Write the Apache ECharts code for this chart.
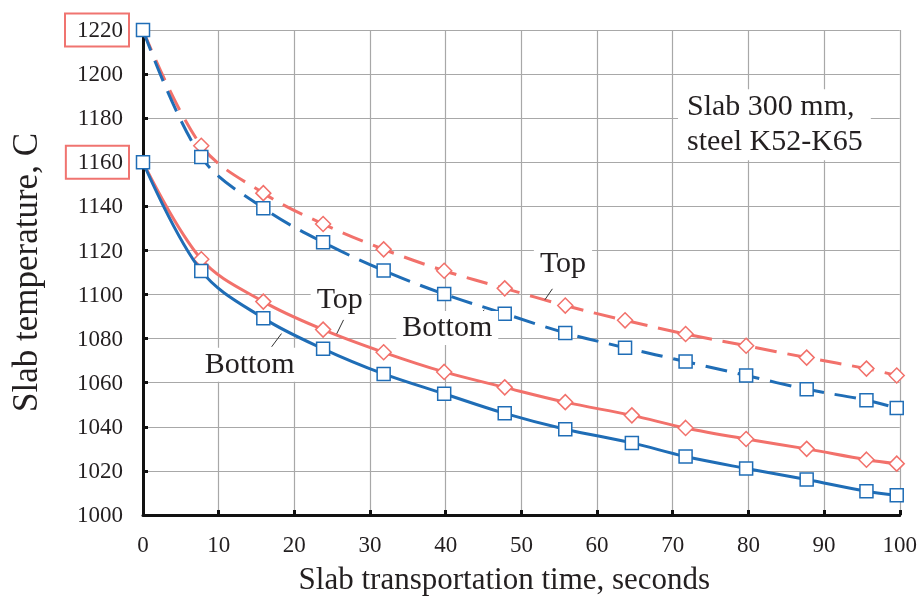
<!DOCTYPE html>
<html>
<head>
<meta charset="utf-8">
<script src="https://cdn.jsdelivr.net/npm/echarts@6/dist/echarts.min.js"></script>
<style>html,body{margin:0;padding:0;background:#fff;overflow:hidden}#c{width:920px;height:601px}</style>
</head>
<body>
<div id="c"></div>
<script>
// ---- data ----
var xDashed = [0, 7.7, 15.9, 23.8, 31.8, 39.8, 47.8, 55.8, 63.7, 71.7, 79.7, 87.7, 95.6, 99.6];
var topDashed = [1220, 1167.5, 1146, 1132, 1120.5, 1110.8, 1102.8, 1095, 1088.3, 1082.1, 1076.8, 1071.4, 1066.4, 1063.3];
var bottomDashed = [1220, 1162.4, 1139.2, 1123.7, 1110.9, 1100.2, 1091.3, 1082.6, 1075.9, 1069.6, 1063.3, 1057, 1052.1, 1048.5];
var xSolid = [0, 7.7, 15.9, 23.8, 31.8, 39.8, 47.8, 55.8, 64.6, 71.7, 79.7, 87.7, 95.6, 99.6];
var topSolid = [1160, 1116, 1096.8, 1084.1, 1073.8, 1064.9, 1057.9, 1051.2, 1045.2, 1039.5, 1034.5, 1030, 1025.1, 1023.3];
var bottomSolid = [1160, 1110.7, 1089.3, 1075.4, 1064, 1055, 1046.1, 1038.9, 1032.7, 1026.5, 1021.1, 1016.1, 1010.8, 1009];
var highlightedTicks = [1220, 1160];
var xTitle = 'Slab transportation time, seconds';
var yTitle = 'Slab temperature, C';
var noteText = 'Slab 300 mm,\nsteel K52-K65';
// annotation anchors (data coordinates)
var labels = [
  {text: 'Top', coord: [26, 1097.4], line: [[26.5, 1088.5], [25.6, 1082.2]]},
  {text: 'Bottom', coord: [14.1, 1068.2], line: [[18.3, 1082.3], [17, 1076.3]]},
  {text: 'Top', coord: [55.5, 1113.6], line: [[54.1, 1102.6], [53.1, 1097.6]]},
  {text: 'Bottom', coord: [40.2, 1084.8], line: [[44.5, 1091.2], [45.1, 1093]]}
];
var noteCoord = [70.7, 1177];

var BLUE = '#1f6db6';
var RED = '#f2716b';
var SERIF = '"Liberation Serif","Times New Roman",serif';
var TXT = '#231f20';

function pairs(xs, ys, skipFirstSymbol) {
  return xs.map(function (x, i) {
    var item = {value: [x, ys[i]]};
    if (skipFirstSymbol && i === 0) item.symbol = 'none';
    return item;
  });
}

function redSeries(data, dashed) {
  return {
    type: 'line', data: data, smooth: 0.35,
    symbol: 'diamond', symbolSize: 15, showAllSymbol: true,
    lineStyle: {color: RED, width: 3, type: dashed ? [22, 11] : 'solid'},
    itemStyle: {color: '#fff', borderColor: RED, borderWidth: 1.5},
    z: 3
  };
}
function blueSeries(data, dashed) {
  return {
    type: 'line', data: data, smooth: 0.35,
    symbol: 'rect', symbolSize: 13, showAllSymbol: true,
    lineStyle: {color: BLUE, width: 3, type: dashed ? [22, 11] : 'solid'},
    itemStyle: {color: '#fff', borderColor: BLUE, borderWidth: 1.5},
    z: 4
  };
}

var annoSeries = {
  type: 'line', data: [], silent: true, z: 6,
  markPoint: {
    silent: true, symbol: 'circle', symbolSize: 0, animation: false,
    data: labels.map(function (l) {
      return {coord: l.coord, label: {show: true, position: 'inside', formatter: l.text,
        fontFamily: SERIF, fontSize: 30, color: TXT, backgroundColor: '#fff', padding: [3, 6, 1, 6]}};
    }).concat([{coord: noteCoord, label: {show: true, position: 'right', distance: 0, formatter: noteText,
        fontFamily: SERIF, fontSize: 30, lineHeight: 35, color: TXT, backgroundColor: '#fff',
        padding: [1, 8, 0, 9], align: 'left'}}])
  },
  markLine: {
    silent: true, symbol: 'none', animation: false,
    lineStyle: {color: '#333', width: 1, type: 'solid'},
    label: {show: false},
    data: labels.map(function (l) { return [{coord: l.line[0]}, {coord: l.line[1]}]; })
  }
};

var chart = echarts.init(document.getElementById('c'), null, {renderer: 'canvas', width: 920, height: 601});
chart.setOption({
  animation: false,
  backgroundColor: '#fff',
  grid: {left: 143, right: 18, top: 30, bottom: 81, containLabel: false},
  xAxis: {
    type: 'value', min: 0, max: 100, interval: 10,
    name: xTitle, nameLocation: 'middle', nameGap: 50,
    nameTextStyle: {fontFamily: SERIF, fontSize: 31, color: TXT, padding: [0, 34, 0, 0]},
    axisLine: {show: true, lineStyle: {color: '#111', width: 3}},
    axisTick: {show: true, inside: true, length: 5, lineStyle: {color: '#111', width: 3}},
    axisLabel: {fontFamily: SERIF, fontSize: 23, color: TXT, margin: 19},
    splitLine: {show: true, lineStyle: {color: '#a8a8a8', width: 1.2}}
  },
  yAxis: {
    type: 'value', min: 1000, max: 1220, interval: 20,
    name: yTitle, nameLocation: 'middle', nameGap: 98, nameRotate: 90,
    nameTextStyle: {fontFamily: SERIF, fontSize: 35, color: TXT},
    axisLine: {show: true, lineStyle: {color: '#111', width: 3}},
    axisTick: {show: true, inside: true, length: 5, lineStyle: {color: '#111', width: 3}},
    axisLabel: {
      margin: 14,
      formatter: function (v) { return highlightedTicks.indexOf(v) >= 0 ? '{b|' + v + '}' : '{n|' + v + '}'; },
      rich: {
        n: {fontFamily: SERIF, fontSize: 23, color: TXT, padding: [6, 6, 4, 12], borderWidth: 2, borderColor: 'rgba(0,0,0,0)'},
        b: {fontFamily: SERIF, fontSize: 23, color: TXT, padding: [6, 6, 4, 12], borderWidth: 2, borderColor: '#f07470'}
      }
    },
    splitLine: {show: true, lineStyle: {color: '#a8a8a8', width: 1.2}}
  },
  series: [
    redSeries(pairs(xDashed, topDashed, true), true),
    blueSeries(pairs(xDashed, bottomDashed, false), true),
    redSeries(pairs(xSolid, topSolid, true), false),
    blueSeries(pairs(xSolid, bottomSolid, false), false),
    annoSeries
  ]
});
</script>
</body>
</html>
